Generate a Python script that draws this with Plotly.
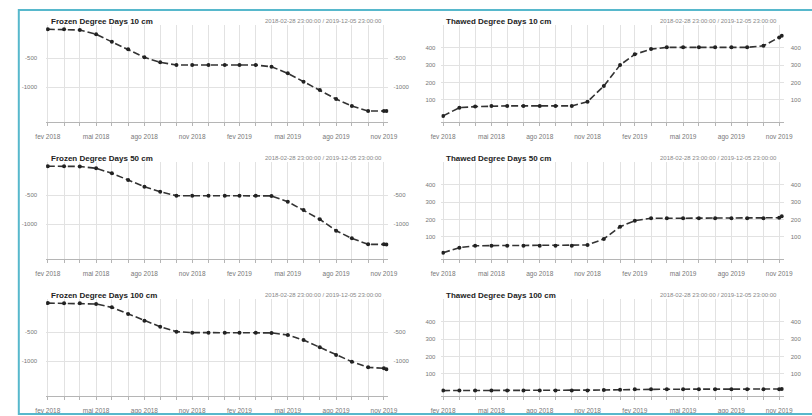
import plotly.graph_objects as go

W, H = 812, 416

dates = ["2018-02-28 23:00", "2018-03-31 23:00", "2018-04-30 23:00", "2018-05-31 23:00",
         "2018-06-30 23:00", "2018-07-31 23:00", "2018-08-31 23:00", "2018-09-30 23:00",
         "2018-10-31 23:00", "2018-11-30 23:00", "2018-12-31 23:00", "2019-01-31 23:00",
         "2019-02-28 23:00", "2019-03-31 23:00", "2019-04-30 23:00", "2019-05-31 23:00",
         "2019-06-30 23:00", "2019-07-31 23:00", "2019-08-31 23:00", "2019-09-30 23:00",
         "2019-10-31 23:00", "2019-11-30 23:00", "2019-12-05 23:00"]

frozen_10 = [-5, -5, -17, -92, -218, -351, -489, -575, -621, -621, -621, -621,
             -621, -621, -650, -764, -908, -1052, -1207, -1328, -1414, -1414, -1414]
thawed_10 = [9, 56, 62, 66, 66, 66, 66, 66, 66, 90, 180, 300,
             361, 391, 401, 401, 401, 401, 401, 401, 410, 458, 467]
frozen_50 = [-3, -5, -8, -40, -126, -241, -356, -443, -512, -512, -512, -512,
             -512, -512, -515, -615, -759, -919, -1115, -1247, -1350, -1350, -1352]
thawed_50 = [10, 39, 50, 50, 50, 50, 50, 50, 50, 54, 89, 159,
             193, 207, 207, 207, 207, 207, 207, 207, 207, 210, 218]
frozen_100 = [-2, -3, -5, -17, -75, -190, -305, -408, -494, -511, -511, -511,
              -511, -511, -515, -552, -638, -764, -897, -1012, -1109, -1126, -1143]
thawed_100 = [5, 5, 5, 5, 5, 5, 5, 5, 5, 6, 8, 10,
              12, 13, 13, 13, 13, 13, 13, 13, 13, 13, 14]

titles = ["Frozen Degree Days 10 cm", "Thawed Degree Days 10 cm",
          "Frozen Degree Days 50 cm", "Thawed Degree Days 50 cm",
          "Frozen Degree Days 100 cm", "Thawed Degree Days 100 cm"]
series = [frozen_10, thawed_10, frozen_50, thawed_50, frozen_100, thawed_100]
period_text = "2018-02-28 23:00:00 / 2019-12-05 23:00:00"

x_tick_labels = ["fev 2018", "mai 2018", "ago 2018", "nov 2018",
                 "fev 2019", "mai 2019", "ago 2019", "nov 2019"]
frozen_ticks = [-1000, -500]
thawed_ticks = [100, 200, 300, 400]

FONT = "Liberation Sans, Arial, sans-serif"
GRID = "#e2e2e2"
AXC = "#b5b5b5"
TXT = "#777777"

col_px = [(36, 387), (441.3, 792.3)]
row_off = [0, 137, 274]
top_px, bot_px = 25, 122
x_range = ["2018-02-25 18:00", "2019-12-09 16:00"]
frozen_range = [-1603, 69]
thawed_range = [-26, 529]

fig = go.Figure()
layout = {}
annotations = []

for i, (title, vals) in enumerate(zip(titles, series)):
    r, c = divmod(i, 2)
    frozen = (c == 0)
    xa = "x" if i == 0 else f"x{i+1}"
    ya = f"y{2*i+1}" if i > 0 else "y"
    yb = f"y{2*i+2}"
    xkey = "xaxis" if i == 0 else f"xaxis{i+1}"
    ykey = "yaxis" if i == 0 else f"yaxis{2*i+1}"
    ykey2 = f"yaxis{2*i+2}"
    x0, x1 = col_px[c]
    t = top_px + row_off[r]
    b = bot_px + row_off[r]
    xdom = [x0 / W, x1 / W]
    ydom = [1 - b / H, 1 - t / H]
    yr = frozen_range if frozen else thawed_range
    yt = frozen_ticks if frozen else thawed_ticks

    # invisible companion trace so the right-hand axis is drawn
    fig.add_trace(go.Scatter(
        x=dates, y=vals, xaxis=xa, yaxis=yb, mode="lines",
        line=dict(color="rgba(0,0,0,0)", width=0),
        showlegend=False, hoverinfo="skip"))
    fig.add_trace(go.Scatter(
        x=dates, y=vals, xaxis=xa, yaxis=ya, mode="lines+markers",
        line=dict(color="#333333", width=1.6, dash="7px,3px"),
        marker=dict(size=4, color="#222222"),
        showlegend=False, hoverinfo="skip"))

    layout[xkey] = dict(
        domain=xdom, anchor=ya, type="date", range=x_range,
        tickmode="array", tickvals=dates[::3][:8], ticktext=x_tick_labels,
        tickfont=dict(size=6.5, color=TXT, family=FONT),
        showgrid=True, gridcolor=GRID, gridwidth=1,
        showline=True, linecolor=AXC, linewidth=1,
        ticks="outside", ticklen=3, tickcolor=AXC, ticklabelstandoff=5,
        zeroline=False, fixedrange=True,
        minor=dict(dtick="M1", tick0="2018-03-01", showgrid=True, gridcolor=GRID,
                   gridwidth=1, ticks="outside", ticklen=3, tickcolor=AXC))
    layout[ykey] = dict(
        domain=ydom, anchor=xa, range=yr,
        tickmode="array", tickvals=yt, ticktext=[str(v) for v in yt],
        tickfont=dict(size=6, color=TXT, family=FONT),
        showgrid=True, gridcolor=GRID, gridwidth=1, zeroline=False,
        showline=False, ticks="", ticklabelstandoff=8 if c == 0 else 5,
        fixedrange=True)
    layout[ykey2] = dict(
        overlaying=ya, anchor=xa, side="right", range=yr,
        tickmode="array", tickvals=yt, ticktext=[str(v) for v in yt],
        tickfont=dict(size=6, color=TXT, family=FONT),
        showgrid=False, zeroline=False, showline=False, ticks="",
        ticklabelstandoff=4 if c == 0 else 6, fixedrange=True)

    title_x = x0 + 3
    annotations.append(dict(
        text=f"<b>{title}</b>", x=title_x / W, y=1 - (21 + row_off[r]) / H,
        xref="paper", yref="paper", xanchor="left", yanchor="middle",
        showarrow=False, font=dict(size=8, color="#222222", family=FONT)))
    annotations.append(dict(
        text=period_text, x=(x1 - 5) / W, y=1 - (21 + row_off[r]) / H,
        xref="paper", yref="paper", xanchor="right", yanchor="middle",
        showarrow=False, font=dict(size=6, color="#888888", family=FONT)))

fig.update_layout(
    width=W, height=H, margin=dict(l=0, r=0, t=0, b=0),
    paper_bgcolor="white", plot_bgcolor="white",
    annotations=annotations,
    shapes=[dict(type="rect", xref="paper", yref="paper",
                 x0=8 / W, x1=1.02, y0=1 - 414 / H, y1=1 - 10 / H,
                 line=dict(color="#57b8cc", width=2), fillcolor="rgba(0,0,0,0)",
                 layer="above")],
    **layout)

fig.write_html("out.html")
